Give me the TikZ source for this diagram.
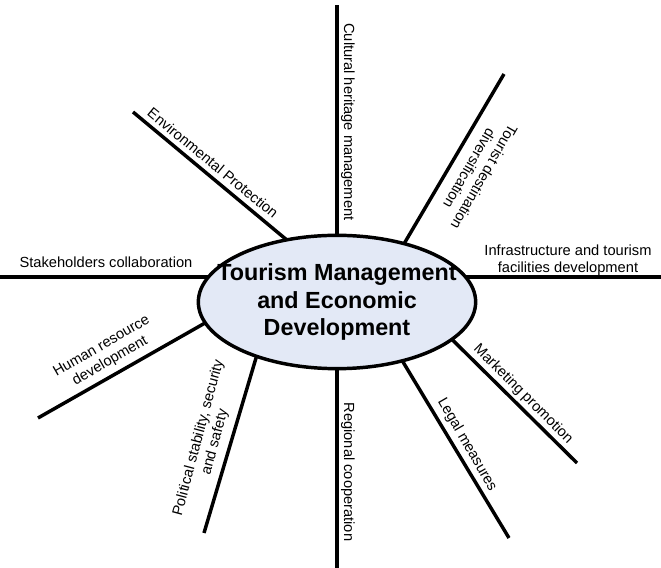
\documentclass[tikz,border=0pt]{standalone}
\usepackage{fontspec}
\setmainfont{Liberation Sans}
\usetikzlibrary{shapes.geometric}
\definecolor{hubfill}{RGB}{227,233,246}

\begin{document}
\begin{tikzpicture}[x=0.75pt,y=0.75pt,
    spoke/.style={line width=2.6pt},
    lbl/.style={inner sep=0pt, align=center, font=\fontsize{11}{12.75}\selectfont}]
        \useasboundingbox (0,0) rectangle (661,568);

        % Central ellipse
        \node[ellipse, draw, line width=2.6pt, fill=hubfill, minimum width=208pt,
              minimum height=100pt, inner sep=0pt, outer sep=0pt] (hub) at (337,266) {};
        \node[inner sep=0pt, align=center, font=\fontsize{17.5}{20.6}\selectfont\bfseries]
              (title) at (hub.center) {Tourism Management\\and Economic\\Development};

        % Free ends of the spokes
        \coordinate (lft) at (0,0);
        \coordinate (rgt) at (661,0);
        \coordinate (env) at (133,456);
        \coordinate (cul) at (337,563);
        \coordinate (tour) at (504,494);
        \coordinate (mkt) at (577,105);
        \coordinate (legal) at (509,30);
        \coordinate (reg) at (337,0);
        \coordinate (pol) at (204,35);
        \coordinate (hum) at (38,150);

        % Spokes
        \draw[spoke] (hub.169) -- (hub.169 -| lft);
        \draw[spoke] (hub.129.5) -- (env);
        \draw[spoke] (hub.north) -- (cul);
        \draw[spoke] (hub.41) -- (tour);
        \draw[spoke] (hub.11) -- (hub.11 -| rgt);
        \draw[spoke] (hub.-18.7) -- (mkt);
        \draw[spoke] (hub.-42) -- (legal);
        \draw[spoke] (hub.south) -- (reg);
        \draw[spoke] (hub.-146) -- (pol);
        \draw[spoke] (hub.189.5) -- (hum);

        % Labels
        \node[lbl] (stakeL) at (106,306) {Stakeholders collaboration};
        \node[lbl, rotate=-39.5] (envL) at (213,405) {Environmental Protection};
        \node[lbl, rotate=-90] (culL) at (348,446) {Cultural heritage management};
        \node[lbl, rotate=-120] (tourL) at (477,395) {Tourist destination\\diversification};
        \node[lbl] (infraL) at (568,308) {Infrastructure and tourism\\facilities development};
        \node[lbl, rotate=-45] (mktL) at (523,174) {Marketing promotion};
        \node[lbl, rotate=-60] (legalL) at (467,123) {Legal measures};
        \node[lbl, rotate=-90] (regL) at (348,96) {Regional cooperation};
        \node[lbl, rotate=75] (polL) at (207,128) {Political stability, security\\and safety};
        \node[lbl, rotate=30] (humL) at (106,214) {Human resource\\development};
      \end{tikzpicture}
\end{document}
